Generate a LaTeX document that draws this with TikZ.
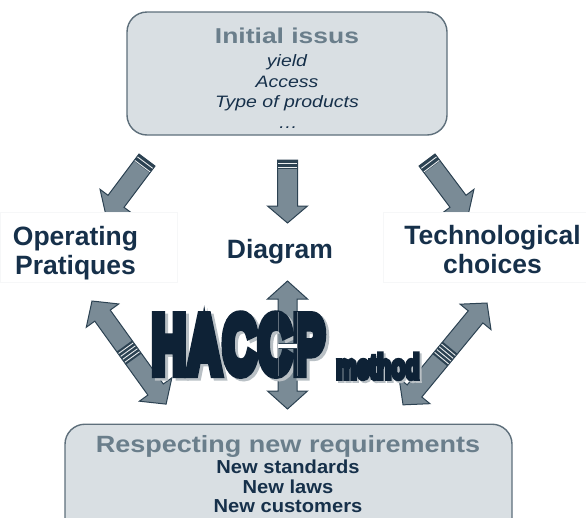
\documentclass[tikz,border=0pt]{standalone}
\usepackage{fontspec}
\setmainfont{Liberation Sans}
\newfontfamily\haccpfont[FakeBold=14]{Liberation Sans}
\usetikzlibrary{calc}

\definecolor{panelfill}{HTML}{D9DFE3}
\definecolor{panelline}{HTML}{5E6F7B}
\definecolor{titlegray}{HTML}{6A7E8B}
\definecolor{navy}{HTML}{16304A}
\definecolor{inknavy}{HTML}{0E2236}
\definecolor{arrowfill}{HTML}{7A8B96}
\definecolor{arrowline}{HTML}{2C4252}
\definecolor{ghost}{HTML}{F6F7F8}
\definecolor{shade}{HTML}{B9C0C5}

\tikzset{
  panel/.style={draw=panelline, fill=panelfill, line width=1.4pt, rounded corners=20pt, inner sep=0pt},
  arrowbody/.style={draw=arrowline, fill=arrowfill, line width=1pt, line join=miter},
  groove/.style={draw=white!85!arrowfill, line width=0.9pt},
  labelbox/.style={draw=ghost, fill=white, line width=0.6pt, inner sep=0pt},
  headlabel/.style={font=\bfseries\fontsize{26.5}{29}\selectfont, text=navy, inner sep=0pt},
  paneltitle/.style={font=\bfseries\fontsize{#1}{#1}\selectfont, text=titlegray, inner sep=0pt},
  issueitem/.style={font=\itshape\fontsize{16.5}{18}\selectfont, text=navy, inner sep=0pt, xscale=1.18},
  needitem/.style={font=\bfseries\fontsize{18.8}{20}\selectfont, text=navy, inner sep=0pt, xscale=1.07},
  bigword/.style={font=\haccpfont\bfseries\fontsize{#1}{#1}\selectfont\pgfsetstrokecolor{inknavy}, text=inknavy, inner sep=0pt},
  bigshadow/.style={font=\haccpfont\bfseries\fontsize{#1}{#1}\selectfont\pgfsetstrokecolor{shade}, text=shade, inner sep=0pt},
}

% block arrow with a grooved collar at its tail: #1 tail, #2 direction, #3 length
\newcommand\plainarrow[3]{%
  \begin{scope}[shift={(#1)}, rotate=#2]
    \draw[arrowbody] (0,-10) -- (#3-17,-10) -- (#3-17,-20) -- (#3,0)
      -- (#3-17,20) -- (#3-17,10) -- (0,10) -- cycle;
    \fill[arrowline] (0,-10) rectangle (8.5,10);
    \draw[groove] (3.2,-9.5) -- (3.2,9.5) (7.6,-9.5) -- (7.6,9.5);
  \end{scope}}

% double-headed block arrow with a grooved band in the middle: #1 first tip, #2 direction, #3 length, #4 grooves shown
\newcommand\twowayarrow[4]{%
  \begin{scope}[shift={(#1)}, rotate=#2]
    \draw[arrowbody] (0,0) -- (18,20) -- (18,9.5) -- (#3-18,9.5) -- (#3-18,20)
      -- (#3,0) -- (#3-18,-20) -- (#3-18,-9.5) -- (18,-9.5) -- (18,-20) -- cycle;
    \ifnum#4=1
      \fill[arrowline] (#3/2-8,-9.5) rectangle (#3/2+8,9.5);
      \foreach \s in {-5.4,-1.8,1.8,5.4}
        \draw[groove] (#3/2+\s,-9) -- (#3/2+\s,9);
    \fi
  \end{scope}}

\begin{document}
\begin{tikzpicture}[x=1pt,y=-1pt]
\useasboundingbox (0,0) rectangle (586,517);
\clip (0,0) rectangle (586,517);

% panels
\node[panel, minimum width=320, minimum height=123] (issues) at (287,73.5) {};
\node[panel, minimum width=447, minimum height=120, anchor=north] (needs) at (288.5,423.5) {};

% arrow anchors
\coordinate (opTail) at (147,160);
\coordinate (diTail) at (287.5,160);
\coordinate (teTail) at (427,160);
\coordinate (opTip) at (92,301);
\coordinate (diTip) at (287.5,281);
\coordinate (teTip) at (487,303);

% arrows from the issues panel
\plainarrow{opTail}{-126.87}{68.6}
\plainarrow{diTail}{-90}{63}
\plainarrow{teTail}{-53.13}{68.6}

% double arrows towards the requirements panel
\twowayarrow{opTip}{-54.3}{127}{1}
\twowayarrow{diTip}{-90}{128}{0}
\twowayarrow{teTip}{-129.5}{132}{1}

% white label plates
\node[labelbox, minimum width=177, minimum height=70, anchor=north west] (opPlate) at (0,212) {};
\node[labelbox, minimum width=203, minimum height=70, anchor=north west] (tePlate) at (383,212) {};

% issues panel text
\node[paneltitle=21.5, anchor=base, xscale=1.23] (issTitle) at (287,43) {Initial issus};
\node[issueitem, anchor=base] (iss1) at (287,66) {yield};
\node[issueitem, anchor=base] (iss2) at (287,87) {Access};
\node[issueitem, anchor=base] (iss3) at (287,107.5) {Type of products};
\node[issueitem, anchor=base] (iss4) at (288,128) {…};

% side labels
\node[headlabel, anchor=base] (op1) at (75.5,245) {Operating};
\node[headlabel, anchor=base] (op2) at (75.5,274) {Pratiques};
\node[headlabel, anchor=base] (di1) at (280,258.5) {Diagram};
\node[headlabel, anchor=base] (te1) at (492.5,244) {Technological};
\node[headlabel, anchor=base] (te2) at (492.5,273) {choices};

% requirements panel text
\node[paneltitle=23.5, anchor=base, xscale=1.15] (needTitle) at (288,452) {Respecting new requirements};
\node[needitem, anchor=base] (need1) at (288,473) {New standards};
\node[needitem, anchor=base] (need2) at (288,493) {New laws};
\node[needitem, anchor=base] (need3) at (288,512) {New customers};

% HACCP lettering with its soft shadow
\node[bigshadow=81, anchor=base west, xscale=0.575] (haccpShade) at (155,375) {H\kern3pt A\kern3pt C\kern3pt C\kern3pt P};
\node[bigword=81, anchor=base west, xscale=0.575] (haccp) at (152,372.5) {H\kern3pt A\kern3pt C\kern3pt C\kern3pt P};
\node[bigshadow=34, anchor=base west, xscale=0.68] (methShade) at (338,380.5) {method};
\node[bigword=34, anchor=base west, xscale=0.68] (meth) at (336,378.5) {method};

% shaft traces crossing the second C
\fill[white] (278,344) rectangle (297,347.5);
\draw[arrowline, line width=0.5pt] (278,343.5) -- (297,343.5) (278,348) -- (297,348);
\draw[white, opacity=0.35, line width=0.6pt] (278,312) -- (278,376) (297,312) -- (297,376);
\end{tikzpicture}
\end{document}
